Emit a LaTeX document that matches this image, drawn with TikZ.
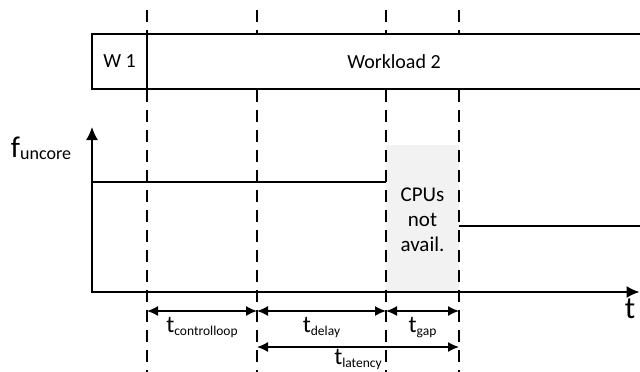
\documentclass[tikz,border=0pt]{standalone}
\usepackage{fontspec}
\setmainfont{Carlito}
\usetikzlibrary{arrows.meta,calc}

\newcommand{\tlbl}[1]{{\fontsize{24}{24}\selectfont t}{\fontsize{13.5}{13.5}\selectfont\raisebox{-3pt}{#1}}}

\begin{document}
\begin{tikzpicture}[x=1pt,y=-1pt,line width=1.5pt,>={Latex[length=11pt,width=10pt]},
  guide/.style={dash pattern=on 12pt off 8pt},
  box/.style={rectangle,draw,fill=white,minimum height=55pt,inner sep=0pt,outer sep=0pt,font=\fontsize{20}{20}\selectfont},
  lbl/.style={inner sep=0pt}]
\useasboundingbox (0,0) rectangle (640,372);
\fill[black!5] (386,145) rectangle (459,292);
% time marks
\foreach \n/\x in {1/147,2/257,3/386,4/459}{
  \coordinate (top\n) at (\x,10);
  \coordinate (bot\n) at (\x,372);
  \draw[guide] (top\n) -- (bot\n);
}
\node[box,minimum width=55pt] (w1) at (119.5,61.5) {W 1};
\node[box,minimum width=494pt,anchor=west] (w2) at (w1.east) {Workload 2};
\node[font=\fontsize{21}{25}\selectfont,align=center] (cpu) at (422.5,220) {CPUs\\not\\avail.};
% axes
\coordinate (O) at (92,292);
\coordinate (ytop) at (92,127);
\coordinate (xend) at (639.5,292);
\draw[<->,>={Latex[length=13pt,width=12pt]}] (ytop) -- (O) -- (xend);
\node[inner sep=0pt] (f) at (41,148) {{\fontsize{30}{30}\selectfont f}{\fontsize{18}{18}\selectfont\raisebox{-2pt}{uncore}}};
\node[inner sep=0pt,font=\fontsize{31}{31}\selectfont] (t) at (630,309) {t};
% frequency levels
\coordinate (hi) at (0,182);
\coordinate (lo) at (0,226);
\draw (O |- hi) -- (top3 |- hi);
\draw (top4 |- lo) -- (640,226);
% intervals
\coordinate (r1) at (0,311);
\coordinate (r2) at (0,347);
\draw[<->] (top1 |- r1) -- (top2 |- r1) node[lbl,midway,below=6pt] {\tlbl{controlloop}};
\draw[<->] (top2 |- r1) -- (top3 |- r1) node[lbl,midway,below=6pt] {\tlbl{delay}};
\draw[<->] (top3 |- r1) -- (top4 |- r1) node[lbl,midway,below=6pt] {\tlbl{gap}};
\draw[<->] (top2 |- r2) -- (top4 |- r2) node[lbl,midway,below=2pt] {\tlbl{latency}};
\end{tikzpicture}
\end{document}
